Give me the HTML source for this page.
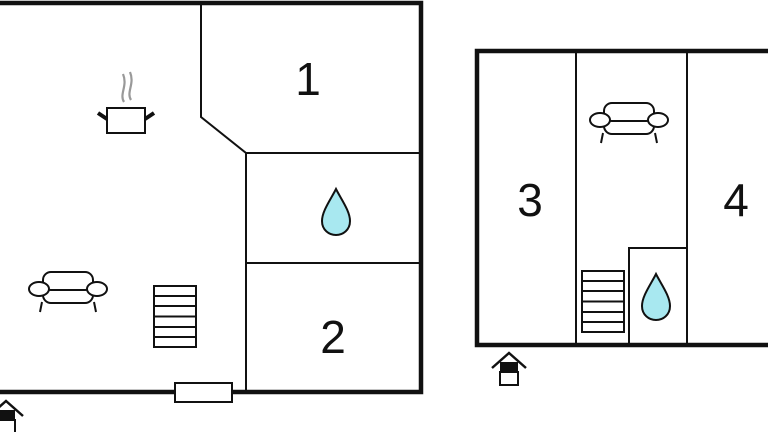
<!DOCTYPE html>
<html><head><meta charset="utf-8"><style>
html,body{margin:0;padding:0;background:#fff;width:768px;height:432px;overflow:hidden}
svg{display:block}
text{font-family:"Liberation Sans",sans-serif;fill:#111}
</style></head><body>
<svg width="768" height="432" viewBox="0 0 768 432" xmlns="http://www.w3.org/2000/svg">
<defs>
<g id="sofa" fill="#fff" stroke="#111" stroke-width="2">
  <path d="M-26,12 L-28,22 M26,12 L28,22"/>
  <rect x="-25" y="-6" width="50" height="19" rx="8"/>
  <rect x="-25" y="-18" width="50" height="18" rx="8"/>
  <ellipse cx="-29" cy="-1" rx="10" ry="7"/>
  <ellipse cx="29" cy="-1" rx="10" ry="7"/>
</g>
<g id="drop"><path d="M0,0 C5,10 14,22 14,32 C14,41 7,46 0,46 C-7,46 -14,41 -14,32 C-14,22 -5,10 0,0 Z" fill="#a8e8f0" stroke="#111" stroke-width="2"/></g>
<g id="stairs" fill="none" stroke="#111" stroke-width="2">
  <rect x="0" y="0" width="42" height="61"/>
  <path d="M0,10 H42 M0,20 H42 M0,30.5 H42 M0,41 H42 M0,51 H42"/>
</g>
<g id="entry">
  <path d="M-17,15 L0,0 L17,15" fill="none" stroke="#111" stroke-width="2.5"/>
  <rect x="-9" y="9" width="18" height="10" fill="#111"/>
  <rect x="-9" y="19" width="18" height="13" fill="#fff" stroke="#111" stroke-width="2"/>
</g>
</defs>

<!-- Left building -->
<g fill="none" stroke="#111">
  <path d="M-5,3 H421 V392 H-5" stroke-width="4.5"/>
  <path d="M201,3 V117 L246,153 V392 M246,153 H421 M246,263 H421" stroke-width="2"/>
</g>
<rect x="175" y="383" width="57" height="19" fill="#fff" stroke="#111" stroke-width="2"/>
<text x="308" y="95" font-size="46" text-anchor="middle">1</text>
<text x="333" y="353" font-size="46" text-anchor="middle">2</text>
<use href="#drop" x="336" y="189"/>
<!-- pot -->
<g stroke="#111" stroke-width="2">
  <path d="M124,102 C119,94 128,86 123,74 M131,100 C126,92 135,84 130,72" fill="none" stroke="#999" stroke-width="2.2"/>
  <rect x="107" y="108" width="38" height="25" fill="#fff"/>
  <path d="M98,113 L107,119 M154,113 L145,119" stroke-width="4"/>
</g>
<use href="#sofa" x="68" y="290"/>
<use href="#stairs" x="154" y="286"/>
<use href="#entry" x="6" y="401"/>

<!-- Right building -->
<g fill="none" stroke="#111">
  <path d="M775,51 H477 V345 H775" stroke-width="4.5"/>
  <path d="M576,51 V345 M687,51 V345 M629,345 V248 H687" stroke-width="2"/>
</g>
<text x="530" y="216" font-size="46" text-anchor="middle">3</text>
<text x="736" y="216" font-size="46" text-anchor="middle">4</text>
<use href="#sofa" x="629" y="121"/>
<use href="#stairs" x="582" y="271"/>
<use href="#drop" x="656" y="274"/>
<use href="#entry" x="509" y="353"/>
</svg>
</body></html>
